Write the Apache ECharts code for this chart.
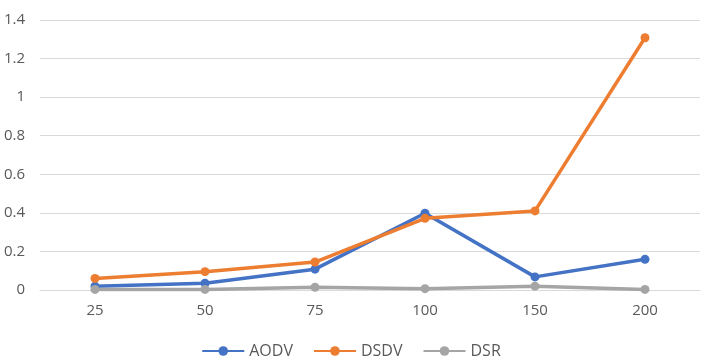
<!DOCTYPE html>
<html><head><meta charset="utf-8">
<script src="https://cdn.jsdelivr.net/npm/echarts@6/dist/echarts.min.js"></script>
<style>html,body{margin:0;padding:0;background:#fff}#c{width:702px;height:361px}</style>
</head><body><div id="c"></div>
<script>
const categories = ['25','50','75','100','150','200'];
const aodv = [0.02, 0.035, 0.108, 0.398, 0.068, 0.159];
const dsdv = [0.06, 0.095, 0.145, 0.372, 0.41, 1.308];
const dsr  = [0.003, 0.003, 0.014, 0.007, 0.02, 0.003];
const seriesNames = ['AODV','DSDV','DSR'];
const colors = ['#4472C4','#ED7D31','#A5A5A5'];
const font = 'Open Sans, Liberation Sans, sans-serif';
const chart = echarts.init(document.getElementById('c'));
const mk = (name, data, color) => ({
  name, type: 'line', data, symbol: 'circle', symbolSize: 9,
  lineStyle: {width: 3.5, color}, itemStyle: {color}, z: 3
});
chart.setOption({
  animation: false,
  color: colors,
  grid: {left: 40, right: 2, top: 20, bottom: 71},
  xAxis: {
    type: 'category', data: categories, boundaryGap: true,
    axisLine: {show: true, lineStyle: {color: '#D9D9D9'}},
    axisTick: {show: false},
    axisLabel: {color: '#595959', fontSize: 15, fontFamily: font, margin: 13}
  },
  yAxis: {
    type: 'value', min: 0, max: 1.4, interval: 0.2,
    axisLine: {show: false}, axisTick: {show: false},
    splitLine: {lineStyle: {color: '#D9D9D9'}},
    axisLabel: {color: '#595959', fontSize: 15, fontFamily: font, margin: 15,
      formatter: v => String(Math.round(v*10)/10)}
  },
  legend: {
    bottom: -3, left: 'center', itemWidth: 42, itemHeight: 12, itemGap: 20,
    textStyle: {color: '#595959', fontSize: 16, fontFamily: font},
    data: seriesNames
  },
  series: [mk(seriesNames[0], aodv, colors[0]), mk(seriesNames[1], dsdv, colors[1]), mk(seriesNames[2], dsr, colors[2])]
});
</script></body></html>
